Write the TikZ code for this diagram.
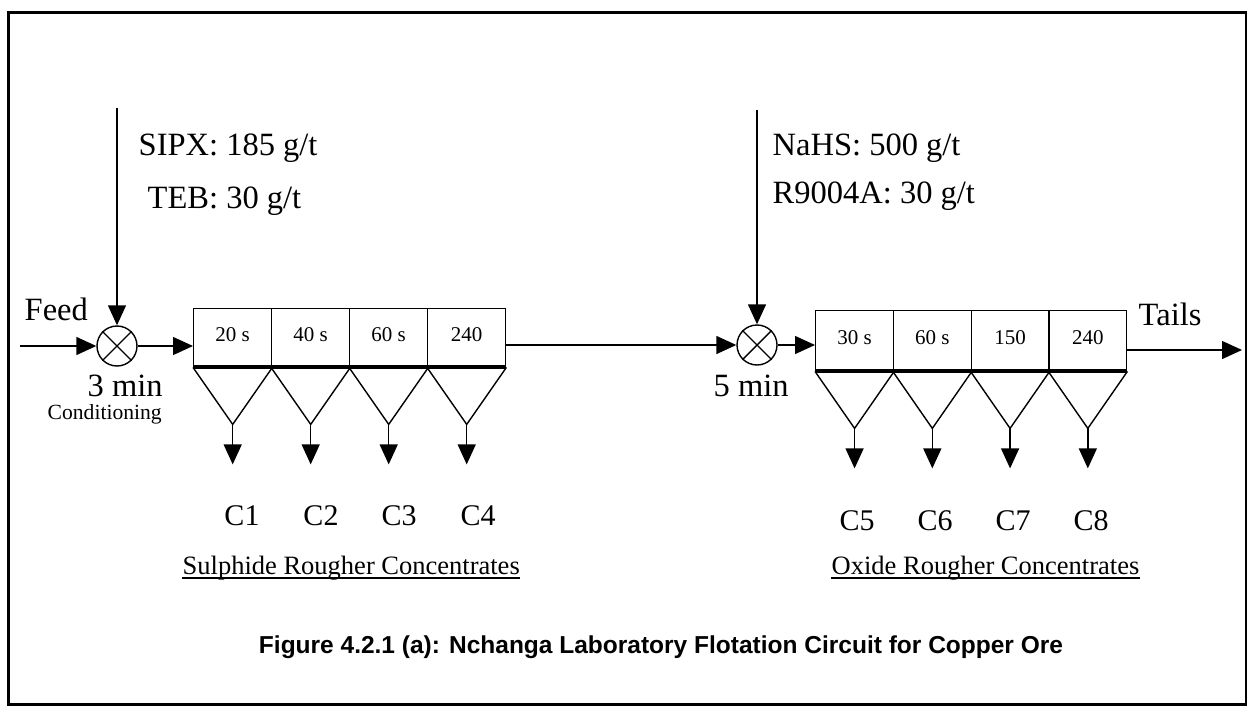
\documentclass[tikz,border=0pt]{standalone}
\usepackage{fontspec}
\setmainfont{Liberation Serif}
\newfontfamily\capfont{Liberation Sans}
\usetikzlibrary{arrows.meta,calc}
\begin{document}
\begin{tikzpicture}[x=1pt,y=-1pt,
  line width=1.4pt,
  tip/.style={-{Triangle[length=20pt,width=18pt]}},
  cellA/.style={draw, minimum width=78pt, minimum height=58pt, inner sep=0pt, anchor=north west, font=\fontsize{21}{21}\selectfont},
  cellB/.style={draw, minimum width=77.75pt, minimum height=60pt, inner sep=0pt, anchor=north west, font=\fontsize{21}{21}\selectfont},
  mixer/.style={draw, circle, minimum size=40pt, inner sep=0pt},
  big/.style={font=\fontsize{32.5}{32.5}\selectfont, inner sep=0pt},
  clabel/.style={font=\fontsize{30}{30}\selectfont, inner sep=0pt},
  mid/.style={font=\fontsize{26.5}{26.5}\selectfont, inner sep=0pt},
  small/.style={font=\fontsize{21.6}{21.6}\selectfont, inner sep=0pt},
  thickline/.style={line width=4pt},
]
\useasboundingbox (0,0) rectangle (1247,706);
\draw[line width=3pt] (8,13) rectangle (1246,704);

% ---- first stage ----
\node[mixer] (m1) at (117,346) {};
\draw (m1.45) -- (m1.225) (m1.135) -- (m1.315);
\coordinate (feedin) at (20,346);
\coordinate (top1) at (117,108);
\draw[tip] (feedin) -- (m1.west);
\draw[tip] (top1) -- (m1.north);

\node[cellA] (a1) at (193,308) {\raisebox{6pt}{20 s}};
\node[cellA] (a2) at (271,308) {\raisebox{6pt}{40 s}};
\node[cellA] (a3) at (349,308) {\raisebox{6pt}{60 s}};
\node[cellA] (a4) at (427,308) {\raisebox{6pt}{240}};
\draw[thickline] (a1.south west) -- (a4.south east);
\draw[tip] (m1.east) -- (m1.east -| a1.west);

\foreach \i in {1,2,3,4}{
  \coordinate (pa\i) at ($(a\i.south)+(0,57)$);
  \coordinate (ta\i) at ($(a\i.south)+(0,97)$);
  \draw (a\i.south west) -- (pa\i) -- (a\i.south east);
  \draw[tip] (pa\i) -- (ta\i);
}

\node[big, anchor=base west] (sipx) at (138,155) {SIPX: 185 g/t};
\node[big, anchor=base west] (teb) at (147,208) {TEB: 30 g/t};
\node[big, anchor=base west] (feed) at (24,320) {Feed};
\node[big, anchor=base west] (min3) at (87,396) {3 min};
\node[small, anchor=base west] (cond) at (47,419) {Conditioning};

\node[clabel, anchor=base] (c1) at (242,525) {C1};
\node[clabel, anchor=base] (c2) at (321,525) {C2};
\node[clabel, anchor=base] (c3) at (399,525) {C3};
\node[clabel, anchor=base] (c4) at (478,525) {C4};
\node[mid, anchor=base west] (sulph) at (182,574) {Sulphide Rougher Concentrates};
\draw[line width=1.2pt] ([yshift=-4pt]sulph.base west) -- ([yshift=-4pt]sulph.base east);

% ---- second stage ----
\node[mixer] (m2) at (757,345) {};
\draw (m2.45) -- (m2.225) (m2.135) -- (m2.315);
\coordinate (top2) at (757,110);
\draw[tip] (top2) -- (m2.north);
\draw[tip] (m2 -| a4.east) -- (m2.west);

\node[cellB] (b1) at (815,310) {\raisebox{6pt}{30 s}};
\node[cellB] (b2) at (892.75,310) {\raisebox{6pt}{60 s}};
\node[cellB] (b3) at (970.5,310) {\raisebox{6pt}{150}};
\node[cellB] (b4) at (1048.25,310) {\raisebox{6pt}{240}};
\draw[thickline] (b1.south west) -- (b4.south east);
\draw[tip] (m2.east) -- (m2.east -| b1.west);

\foreach \i in {1,2,3,4}{
  \coordinate (pb\i) at ($(b\i.south)+(0,57)$);
  \coordinate (tb\i) at ($(b\i.south)+(0,97)$);
  \draw (b\i.south west) -- (pb\i) -- (b\i.south east);
  \draw[tip] (pb\i) -- (tb\i);
}

\coordinate (tailsend) at (1242,350);
\draw[tip] (tailsend -| b4.east) -- (tailsend);
\node[big, anchor=base west] (tails) at (1138,325) {Tails};

\node[big, anchor=base west] (nahs) at (772,155) {NaHS: 500 g/t};
\node[big, anchor=base west] (r9004) at (772,203) {R9004A: 30 g/t};
\node[big, anchor=base west] (min5) at (713,396) {5 min};

\node[clabel, anchor=base] (c5) at (857,530) {C5};
\node[clabel, anchor=base] (c6) at (935,530) {C6};
\node[clabel, anchor=base] (c7) at (1013,530) {C7};
\node[clabel, anchor=base] (c8) at (1091,530) {C8};
\node[mid, anchor=base west] (oxide) at (831,574) {Oxide Rougher Concentrates};
\draw[line width=1.2pt] ([yshift=-4pt]oxide.base west) -- ([yshift=-4pt]oxide.base east);

% ---- caption ----
\node[inner sep=0pt, anchor=base, font=\capfont\bfseries\fontsize{24.5}{24.5}\selectfont] (caption) at (661,653)
  {Figure 4.2.1 (a): Nchanga Laboratory Flotation Circuit for Copper Ore};
\end{tikzpicture}
\end{document}
